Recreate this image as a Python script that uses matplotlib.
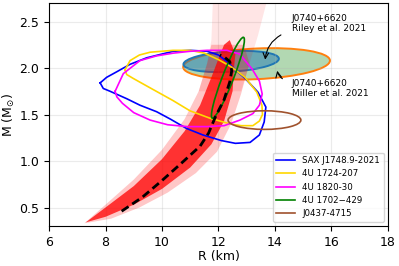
import numpy as np
import matplotlib.pyplot as plt
from matplotlib.patches import Ellipse, Polygon
from matplotlib.transforms import Affine2D

# === DATA ===
# credible contours (R km, M Msun)
sax_R = [7.81, 8.04, 8.4, 8.87, 9.46, 10.4, 11.0, 11.6, 12.0, 12.3, 12.6, 12.94, 13.4, 13.68,
         13.62, 13.45, 13.12, 12.6, 12.1, 11.45, 10.87, 10.3, 9.81, 9.22, 8.75, 8.16, 7.92, 7.81]
sax_M = [1.84, 1.90, 1.96, 2.04, 2.11, 2.18, 2.19, 2.18, 2.14, 2.07, 1.98, 1.89, 1.74, 1.58,
         1.42, 1.28, 1.20, 1.19, 1.22, 1.28, 1.35, 1.45, 1.53, 1.60, 1.67, 1.75, 1.78, 1.84]

u1724_R = [8.69, 8.87, 9.2, 9.58, 10.39, 11.0, 11.5, 12.0, 12.47, 12.94, 13.36, 13.54, 13.56,
           13.45, 13.22, 12.8, 12.4, 11.7, 10.99, 10.39, 9.5, 8.97, 8.75, 8.69]
u1724_M = [1.98, 2.08, 2.14, 2.17, 2.19, 2.19, 2.16, 2.09, 2.01, 1.90, 1.74, 1.60, 1.50,
           1.43, 1.38, 1.38, 1.40, 1.46, 1.54, 1.65, 1.80, 1.89, 1.93, 1.98]

u1820_R = [8.34, 8.63, 9.22, 9.8, 10.4, 11.0, 11.6, 12.3, 12.75, 13.19, 13.45, 13.55, 13.45,
           13.22, 12.76, 12.2, 11.6, 10.9, 10.2, 9.58, 9.0, 8.6, 8.4, 8.34]
u1820_M = [1.75, 1.94, 2.08, 2.13, 2.16, 2.18, 2.19, 2.19, 2.15, 1.99, 1.86, 1.72, 1.60,
           1.51, 1.44, 1.38, 1.37, 1.37, 1.39, 1.44, 1.52, 1.62, 1.69, 1.75]

# ellipses: centre, half-axis towards the end, second half-axis
u1702_c, u1702_u, u1702_v = (12.335, 1.895), (0.545, 0.435), (0.21, 0.0)
j0437_c, j0437_u, j0437_v = (13.63, 1.44), (1.29, 0.0), (0.0, 0.10)
riley_c, riley_u, riley_v = (12.45, 2.07), (1.69, 0.03), (0.0, 0.11)
miller_c, miller_u, miller_v = (13.35, 2.045), (2.6, 0.035), (0.0, 0.165)

# EOS posterior band (core / halo / high-mass fan)
core_R = [7.3, 8.0, 9.0, 10.0, 10.8, 11.35, 11.75, 12.0, 12.2, 12.4, 12.6, 12.55, 12.5, 12.2, 11.75, 11.0, 10.0, 9.0, 8.0, 7.3]
core_M = [0.34, 0.50, 0.73, 1.02, 1.32, 1.60, 1.90, 2.10, 2.25, 2.30, 2.15, 2.00, 1.75, 1.43, 1.18, 0.93, 0.70, 0.53, 0.40, 0.34]
halo_R = [7.25, 8.0, 9.0, 10.0, 10.8, 11.3, 11.6, 11.75, 12.9, 13.1, 12.8, 12.45, 11.95, 11.2, 10.2, 9.2, 8.2, 7.25]
halo_M = [0.33, 0.53, 0.80, 1.12, 1.45, 1.75, 2.05, 2.25, 2.25, 2.05, 1.72, 1.40, 1.10, 0.87, 0.66, 0.50, 0.38, 0.33]
fan_R = [11.3, 11.6, 11.75, 11.8, 13.7, 13.4, 13.1, 12.8]
fan_M = [1.75, 2.05, 2.3, 2.7, 2.7, 2.35, 2.05, 1.75]

# most likely M-R curve
best_R = [8.57, 9.3, 10.0, 10.7, 11.35, 11.65, 11.9, 12.2, 12.4, 12.47, 12.4, 12.2, 12.05]
best_M = [0.46, 0.61, 0.79, 0.98, 1.16, 1.30, 1.48, 1.66, 1.85, 1.97, 2.07, 2.12, 2.14]


def conic(ax, c, u, v, **kw):
    # unit circle mapped through an affine matrix built from the read-off axes
    e = Ellipse((0, 0), 2, 2, **kw)
    m = Affine2D.from_values(u[0], u[1], v[0], v[1], c[0], c[1])
    e.set_transform(m + ax.transData)
    ax.add_patch(e)
    return e


fig = plt.figure(figsize=(3.99, 2.66), dpi=100)
ax = fig.add_axes([0.123, 0.150, 0.849, 0.839])

# NICER ellipses
conic(ax, miller_c, miller_u, miller_v, facecolor='green', alpha=0.3, lw=0, zorder=1)
conic(ax, miller_c, miller_u, miller_v, facecolor='none', edgecolor='tab:orange', lw=1.4, zorder=1.1)
conic(ax, riley_c, riley_u, riley_v, facecolor='tab:blue', alpha=0.5, lw=0, zorder=1.2)
conic(ax, riley_c, riley_u, riley_v, facecolor='none', edgecolor='tab:blue', lw=1.4, zorder=1.3)

# EOS band
ax.add_patch(Polygon(np.column_stack([fan_R, fan_M]), closed=True, facecolor='red', alpha=0.10, lw=0, zorder=2))
ax.add_patch(Polygon(np.column_stack([halo_R, halo_M]), closed=True, facecolor='red', alpha=0.22, lw=0, zorder=2))
ax.add_patch(Polygon(np.column_stack([core_R, core_M]), closed=True, facecolor='red', alpha=0.75, lw=0, zorder=2))

# contours
ax.plot(sax_R, sax_M, color='blue', lw=1.2, label='SAX J1748.9-2021', zorder=3)
ax.plot(u1724_R, u1724_M, color='gold', lw=1.2, label='4U 1724-207', zorder=3)
ax.plot(u1820_R, u1820_M, color='magenta', lw=1.2, label='4U 1820-30', zorder=3)
conic(ax, u1702_c, u1702_u, u1702_v, facecolor='none', edgecolor='green', lw=1.2, zorder=3)
ax.plot([], [], color='green', lw=1.2, label='4U 1702\u2212429')
conic(ax, j0437_c, j0437_u, j0437_v, facecolor='none', edgecolor='sienna', lw=1.2, zorder=3)
ax.plot([], [], color='sienna', lw=1.2, label='J0437-4715')

ax.plot(best_R, best_M, color='black', lw=2, ls=(0, (3, 1.6)), zorder=4)

# labels for J0740
ax.text(14.6, 2.48, 'J0740+6620\nRiley et al. 2021', fontsize=6.5, va='center', ha='left')
ax.annotate('', xy=(13.65, 2.06), xytext=(14.3, 2.37),
            arrowprops=dict(arrowstyle='->', color='black', lw=0.8, connectionstyle='arc3,rad=0.3'))
ax.text(14.6, 1.78, 'J0740+6620\nMiller et al. 2021', fontsize=6.5, va='center', ha='left')
ax.annotate('', xy=(14.07, 2.0), xytext=(14.35, 1.87),
            arrowprops=dict(arrowstyle='->', color='black', lw=0.8, connectionstyle='arc3,rad=-0.3'))

ax.set_xlim(6, 18)
ax.set_ylim(0.3, 2.7)
ax.set_xticks([6, 8, 10, 12, 14, 16, 18])
ax.set_yticks([0.5, 1.0, 1.5, 2.0, 2.5])
ax.tick_params(labelsize=9)
ax.set_xlabel('R (km)', fontsize=9, labelpad=1)
ax.set_ylabel(r'M (M$_{\odot}$)', fontsize=9, labelpad=2)
ax.grid(alpha=0.25)
ax.legend(loc='lower right', fontsize=6.2, framealpha=0.8, handlelength=2.2)

fig.savefig('out.png', dpi=100)
